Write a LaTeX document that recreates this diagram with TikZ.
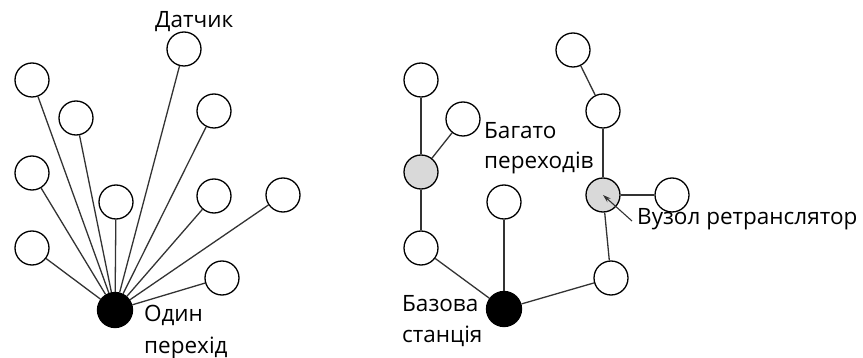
\documentclass[tikz,border=0pt]{standalone}
\usepackage{fontspec}
\setmainfont{Open Sans}
\usetikzlibrary{arrows.meta}
\definecolor{relaygray}{HTML}{D9D9D9}
\begin{document}
\begin{tikzpicture}[x=1pt,y=-1pt,
  sensor/.style={circle,draw=black,line width=1.3pt,fill=white,minimum size=34pt,inner sep=0pt},
  relay/.style={sensor,fill=relaygray},
  hub/.style={circle,draw=black,line width=1.3pt,fill=black,minimum size=35pt,inner sep=0pt},
  link/.style={line width=1.3pt,draw=black!80},
  lbl/.style={font=\fontsize{22.5}{30}\selectfont,inner sep=0pt,anchor=base west}]
\useasboundingbox (0,0) rectangle (863,358);
% left panel
\node[hub] (h) at (115,310) {};
\node[sensor] (s1) at (184,49) {};
\node[sensor] (s2) at (32,80) {};
\node[sensor] (s3) at (76,118) {};
\node[sensor] (s4) at (214,111) {};
\node[sensor] (s5) at (32,173) {};
\node[sensor] (s6) at (116,202) {};
\node[sensor] (s7) at (214,196) {};
\node[sensor] (s8) at (283,195) {};
\node[sensor] (s9) at (32,248) {};
\node[sensor] (s10) at (222,278) {};
\foreach \s in {s1,s2,s3,s4,s5,s6,s7,s8,s9,s10} \draw[link] (h) -- (\s);
\node[lbl] (tDat) at (155,28) {Датчик};
\node[lbl] (tOneA) at (144,322) {Один};
\node[lbl] (tOneB) at (144,353) {перехід};
% right panel
\node[hub] (b) at (504,309) {};
\node[sensor] (l1) at (421,80) {};
\node[relay] (l2) at (421,172) {};
\node[sensor] (l3) at (463,119) {};
\node[sensor] (l4) at (421,248) {};
\node[sensor] (m1) at (504,202) {};
\node[sensor] (r1) at (573,50) {};
\node[sensor] (r2) at (603,111) {};
\node[relay] (r3) at (603,195) {};
\node[sensor] (r4) at (672,195) {};
\node[sensor] (r5) at (611,278) {};
\draw[link] (l1) -- (l2);
\draw[link] (l2) -- (l3);
\draw[link] (l2) -- (l4);
\draw[link] (l4) -- (b);
\draw[link] (m1) -- (b);
\draw[link] (r1) -- (r2);
\draw[link] (r2) -- (r3);
\draw[link] (r3) -- (r4);
\draw[link] (r3) -- (r5);
\draw[link] (r5) -- (b);
\node[lbl] (tManyA) at (484,139) {Багато};
\node[lbl] (tManyB) at (484,169) {переходів};
\node[lbl] (tRel) at (637,225) {Вузол ретранслятор};
\node[lbl] (tBaseA) at (402,312) {Базова};
\node[lbl] (tBaseB) at (402,342) {станція};
\coordinate (aStart) at (632,221);
\draw[line width=1.1pt,draw=black!80,-{Stealth[length=8pt,width=5pt]}] (aStart) -- (r3.center);
\end{tikzpicture}
\end{document}
